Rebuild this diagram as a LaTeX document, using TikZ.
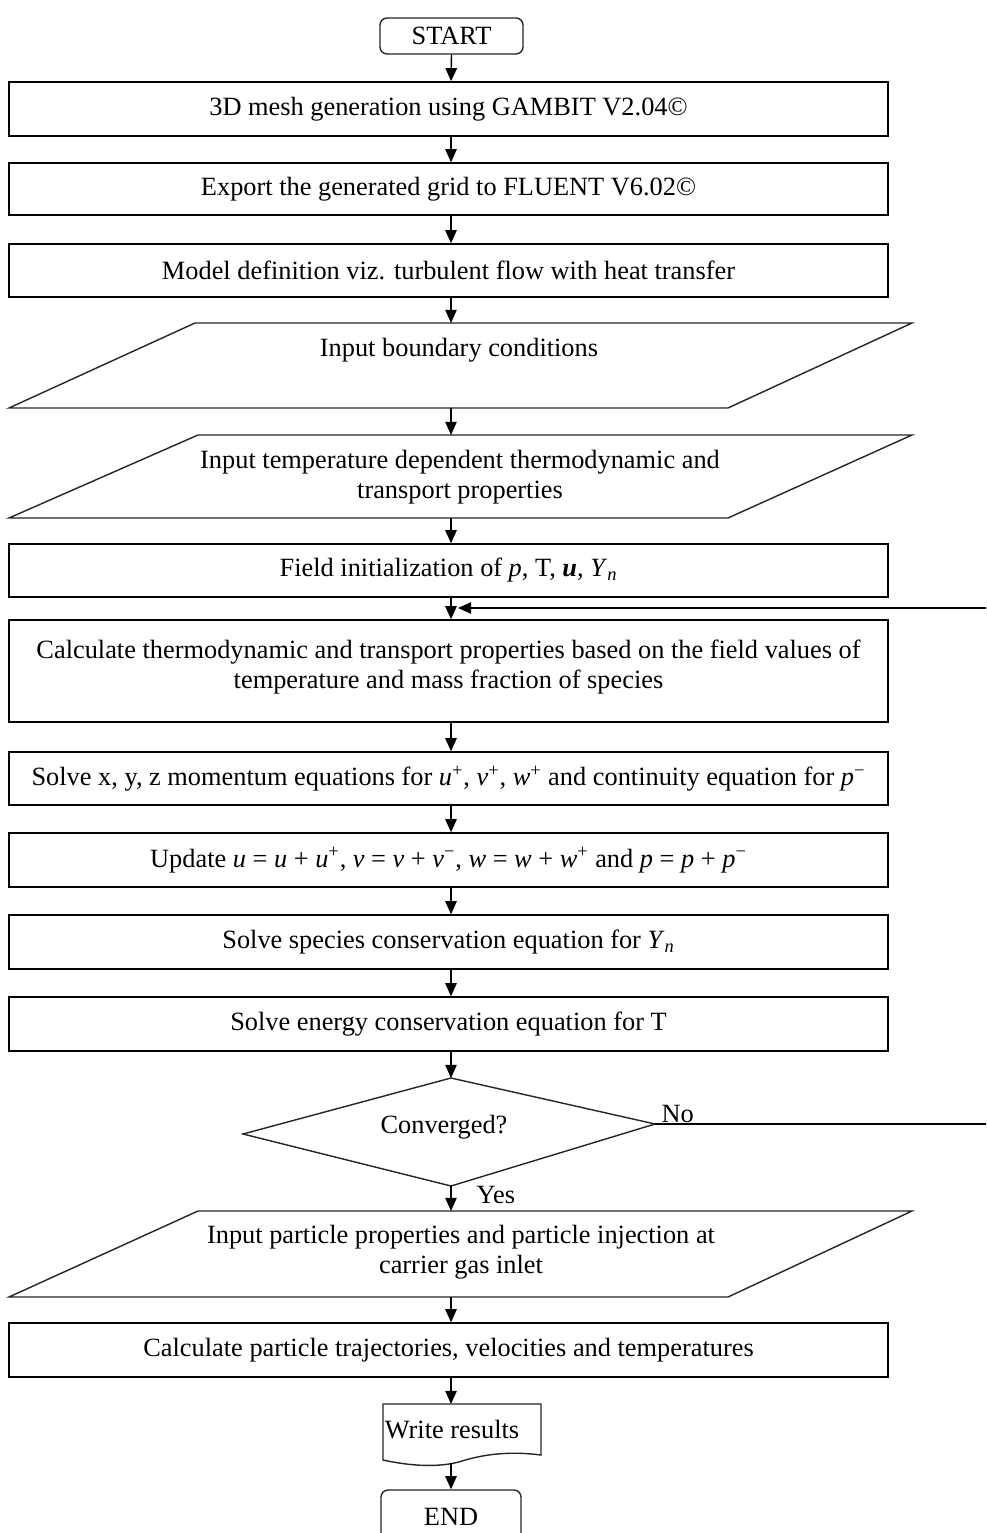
\documentclass[tikz,border=0pt]{standalone}
\usepackage{fontspec}
\setmainfont{Liberation Serif}
\usetikzlibrary{arrows.meta}
\newcommand\flowfont{\fontsize{15}{17}\selectfont}
\begin{document}
\begin{tikzpicture}[x=0.02cm,y=-0.02cm,
  line width=0.8pt,
  every node/.style={font=\flowfont},
  box/.style={draw, rectangle, minimum width=17.58cm, minimum height=#1, inner sep=0pt, align=center},
  term/.style={draw=black!85, rectangle, rounded corners=4pt, minimum width=#1, align=center},
  outline/.style={draw=black!85, line join=miter},
  arr/.style={-{Triangle[length=7.5pt,width=6.5pt]}},
  txt/.style={align=center, inner sep=0pt}]
\useasboundingbox (0,0) rectangle (986,1533);
\clip (0,0) rectangle (986,1533);
\fill[white] (0,0) rectangle (986,1533);

% the column on which all the vertical connectors run
\coordinate (ax) at (451,0);
\coordinate (loopx) at (1010,0);

% terminals and process boxes
\node[term=2.86cm, minimum height=0.72cm] (start) at (451.5,36) {START};
\node[box=1.08cm] (b1) at (448.5,109) {3D mesh generation using GAMBIT V2.04©};
\node[box=1.04cm] (b2) at (448.5,189) {Export the generated grid to FLUENT V6.02©};
\node[box=1.06cm] (b3) at (448.5,270.5) {Model definition viz. turbulent flow with heat transfer};

% input parallelograms
\draw[outline] (195,323) -- (912,323) -- (728,408) -- (9,408) -- cycle;
\coordinate (p1t) at (451,323);
\coordinate (p1b) at (451,408);
\node[txt] (p1) at (459,350) {Input boundary conditions};

\draw[outline] (198,435) -- (912,435) -- (728,518) -- (9,518) -- cycle;
\coordinate (p2t) at (451,435);
\coordinate (p2b) at (451,518);
\node[txt] (p2) at (460,477) {Input temperature dependent thermodynamic and\\transport properties};

\node[box=1.06cm] (b4) at (448.5,570.5) {Field initialization of \textit{p}, T, \textit{\textbf{u}}, \textit{Y}\textsubscript{\textit{n}}};
\coordinate (merge) at (451,608);
\coordinate (mergein) at (458,608);
\node[box=2.04cm] (b5) at (448.5,671) {};
\node[txt] (b5t) at (448.5,667) {Calculate thermodynamic and transport properties based on the field values of\\temperature and mass fraction of species};
\node[box=1.06cm] (b6) at (448.5,778.5) {Solve x, y, z momentum equations for \textit{u}\textsuperscript{+}, \textit{v}\textsuperscript{+}, \textit{w}\textsuperscript{+} and continuity equation for \textit{p}\textsuperscript{\textminus}};
\node[box=1.08cm] (b7) at (448.5,860) {Update \textit{u} = \textit{u} + \textit{u}\textsuperscript{+}, \textit{v} = \textit{v} + \textit{v}\textsuperscript{\textminus}, \textit{w} = \textit{w} + \textit{w}\textsuperscript{+} and \textit{p} = \textit{p} + \textit{p}\textsuperscript{\textminus}};
\node[box=1.08cm] (b8) at (448.5,942) {Solve species conservation equation for \textit{Y}\textsubscript{\textit{n}}};
\node[box=1.08cm] (b9) at (448.5,1024) {Solve energy conservation equation for T};

% decision
\draw[outline] (451,1078) -- (655,1124) -- (451,1186) -- (243,1134) -- cycle;
\coordinate (dt) at (451,1078);
\coordinate (dr) at (655,1124);
\coordinate (db) at (451,1186);
\node[txt] (dec) at (444,1127) {Converged?};
\node[txt, anchor=west] (no) at (661,1114) {No};
\node[txt, anchor=west] (yes) at (476,1195) {Yes};

\draw[outline] (198,1211) -- (912,1211) -- (728,1297) -- (9,1297) -- cycle;
\coordinate (p3t) at (451,1211);
\coordinate (p3b) at (451,1297);
\node[txt] (p3) at (461,1252) {Input particle properties and particle injection at\\carrier gas inlet};

\node[box=1.08cm] (b10) at (448.5,1350) {Calculate particle trajectories, velocities and temperatures};

% document shape for the output step
\draw[outline] (383,1460) -- (383,1404) -- (541,1404) -- (541,1455)
  .. controls (510,1451) and (485,1454) .. (462,1461)
  .. controls (440,1468) and (410,1466) .. cycle;
\coordinate (wt) at (451,1404);
\coordinate (wb) at (451,1463);
\node[txt] (write) at (452,1430) {Write results};

\node[term=2.8cm, minimum height=1.08cm] (end) at (451,1517) {END};

% connectors
\draw[arr] (start.south) -- (b1.north -| ax);
\draw[arr] (b1.south -| ax) -- (b2.north -| ax);
\draw[arr] (b2.south -| ax) -- (b3.north -| ax);
\draw[arr] (b3.south -| ax) -- (p1t);
\draw[arr] (p1b) -- (p2t);
\draw[arr] (p2b) -- (b4.north -| ax);
\draw[arr] (b4.south -| ax) -- (b5.north -| ax);
\draw[arr] (b5.south -| ax) -- (b6.north -| ax);
\draw[arr] (b6.south -| ax) -- (b7.north -| ax);
\draw[arr] (b7.south -| ax) -- (b8.north -| ax);
\draw[arr] (b8.south -| ax) -- (b9.north -| ax);
\draw[arr] (b9.south -| ax) -- (dt);
\draw[arr] (db) -- (p3t);
\draw[arr] (p3b) -- (b10.north -| ax);
\draw[arr] (b10.south -| ax) -- (wt);
\draw[arr] (wb) -- (end.north);

% feedback loop from the decision back above the property update
\draw[arr] (dr) -- (dr -| loopx) -- (loopx |- merge) -- (mergein);
\end{tikzpicture}
\end{document}
